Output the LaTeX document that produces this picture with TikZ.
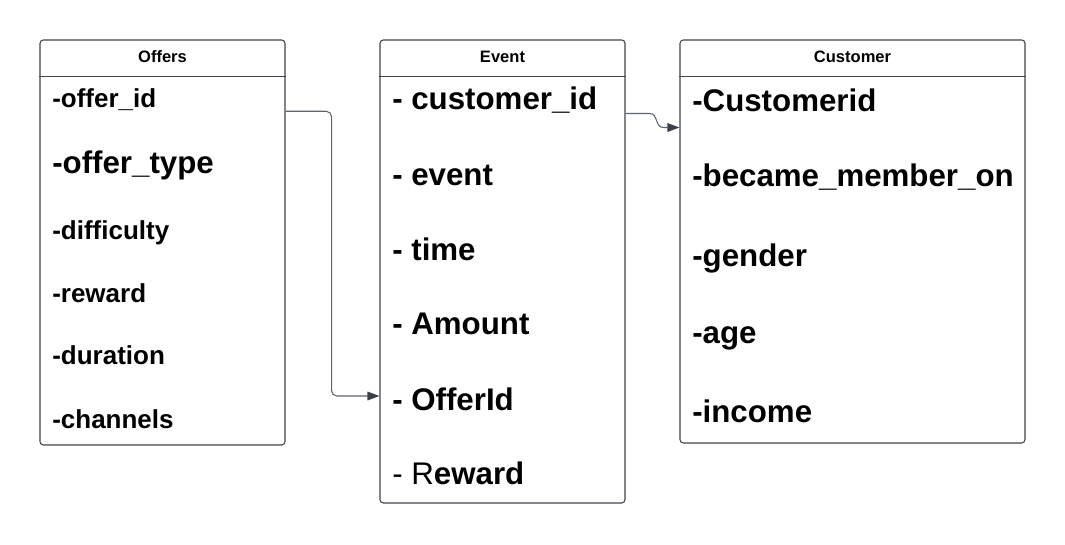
\documentclass[tikz,border=0pt]{standalone}
\usepackage{fontspec}
\setmainfont{Liberation Sans}
\usetikzlibrary{positioning}
\usetikzlibrary{arrows.meta}
\definecolor{framegray}{HTML}{3F444B}
\definecolor{linkgray}{HTML}{5F656D}
\definecolor{tipgray}{HTML}{3A414A}

\begin{document}
\begin{tikzpicture}
  [
    x=0.75pt, y=-0.75pt,
    table/.style={draw=framegray, line width=0.8pt, rounded corners=2.5pt,
      minimum width=183.75pt, inner sep=0pt},
    rule/.style={draw=framegray, line width=0.8pt},
    head/.style={inner sep=0pt, font=\fontsize{12.4}{14}\selectfont\bfseries},
    field/.style={anchor=west, inner sep=0pt,
      font=\fontsize{19.5}{22}\selectfont\bfseries},
    bigfield/.style={anchor=west, inner sep=0pt,
      font=\fontsize{23.45}{26}\selectfont\bfseries},
    link/.style={draw=linkgray, line width=0.8pt,
      -{Triangle[length=9pt,width=6.5pt,color=tipgray]}}
  ]
  \useasboundingbox (0,0) rectangle (1065,544);

  \node (offers)   at (162.5,242.5) [table, minimum height=303.75pt] {};
  \node (event)    at (502.5,271.5) [table, minimum height=347.25pt] {};
  \node (customer) at (852.5,241.5) [table, minimum width=258.75pt,
                                     minimum height=302.25pt] {};

  \draw [rule] ([yshift=-27.75pt]offers.north west)   -- ([yshift=-27.75pt]offers.north east);
  \draw [rule] ([yshift=-27.75pt]event.north west)    -- ([yshift=-27.75pt]event.north east);
  \draw [rule] ([yshift=-27.75pt]customer.north west) -- ([yshift=-27.75pt]customer.north east);

  \node (offersT)   at (162.5,57) [head] {Offers};
  \node (eventT)    at (502.5,57) [head] {Event};
  \node (customerT) at (852.5,57) [head] {Customer};

  % Offers
  \node (oid)   at (52,100) [field]    {-offer\_id};
  \node (otype) at (52,165) [bigfield] {-offer\_type};
  \node (odiff) at (52,233) [field]    {-difficulty};
  \node (orew)  at (52,293) [field]    {-reward};
  \node (odur)  at (52,355) [field]    {-duration};
  \node (ochan) at (52,419) [field]    {-channels};

  % Event
  \node (ecid)   at (392,100) [bigfield] {- customer\_id};
  \node (eevent) at (392,175) [bigfield] {- event};
  \node (etime)  at (392,249) [bigfield] {- time};
  \node (eamt)   at (392,324) [bigfield] {- Amount};
  \node (eoffer) at (392,399) [bigfield] {- OfferId};
  \node (erew)   at (392,473) [bigfield] {{\mdseries - R}eward};

  % Customer
  \node (cid)    at (692,100) [bigfield] {-Customerid};
  \node (cmem)   at (692,177) [bigfield] {-became\_member\_on};
  \node (cgen)   at (692,258) [bigfield] {-gender};
  \node (cage)   at (692,338) [bigfield] {-age};
  \node (cinc)   at (692,411) [bigfield] {-income};

  \draw [link, rounded corners=4pt] (oid.south -| offers.east) -- ++(46,0)
    |- ([yshift=2.25pt]eoffer.west -| event.west);
  \draw [link] (ecid.south -| event.east) -- ++(24,0)
    .. controls +(9,0) and +(-9,0) .. ++(14,14) coordinate (bend)
    -- (bend -| customer.west);
\end{tikzpicture}
\end{document}
